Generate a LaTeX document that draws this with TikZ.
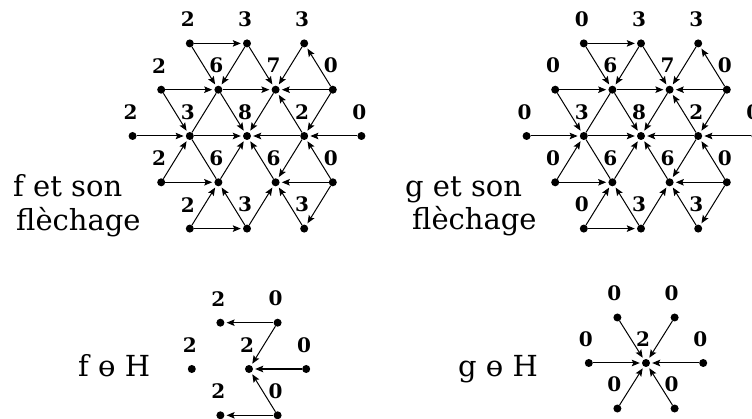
\documentclass[tikz,border=0pt]{standalone}
\usepackage{fontspec}
\setmainfont{DejaVu Serif}
\usetikzlibrary{arrows.meta}
\begin{document}
\begin{tikzpicture}[x=1pt,y=-1pt,
 dot/.style={circle,fill=black,inner sep=0pt,minimum size=8pt},
 arr/.style={draw=black,line width=1pt,-{Stealth[length=8pt,width=6.5pt,inset=1.5pt]},shorten >=2pt},
 pl/.style={draw=black,line width=1pt},
 val/.style={font=\fontsize{20}{20}\selectfont\bfseries,inner sep=0pt},
 txt/.style={font=\fontsize{29}{32}\selectfont,inner sep=0pt,anchor=base west},
 optxt/.style={font=\fontsize{29}{32}\selectfont,inner sep=0pt,anchor=base west}]
\clip (0,0) rectangle (752,419);
% ---------- f lattice ----------
\begin{scope}[shift={(247,136)}]
\foreach \nm/\x/\y/\v in {A1/-57.2/-92.6/2,A2/0/-92.6/3,A3/57.2/-92.6/3,
  B1/-85.8/-46.3/2,B2/-28.6/-46.3/6,B3/28.6/-46.3/7,B4/85.8/-46.3/0,
  C1/-114.4/0/2,C2/-57.2/0/3,C3/0/0/8,C4/57.2/0/2,C5/114.4/0/0,
  D1/-85.8/46.3/2,D2/-28.6/46.3/6,D3/28.6/46.3/6,D4/85.8/46.3/0,
  E1/-57.2/92.6/2,E2/0/92.6/3,E3/57.2/92.6/3}{
  \node[dot] (f-\nm) at (\x,\y) {};
  \node[val] (f-\nm-v) at (\x-2,\y-24) {\v};
}
\end{scope}
% ---------- g lattice ----------
\begin{scope}[shift={(641,136)}]
\foreach \nm/\x/\y/\v in {A1/-57.2/-92.6/0,A2/0/-92.6/3,A3/57.2/-92.6/3,
  B1/-85.8/-46.3/0,B2/-28.6/-46.3/6,B3/28.6/-46.3/7,B4/85.8/-46.3/0,
  C1/-114.4/0/0,C2/-57.2/0/3,C3/0/0/8,C4/57.2/0/2,C5/114.4/0/0,
  D1/-85.8/46.3/0,D2/-28.6/46.3/6,D3/28.6/46.3/6,D4/85.8/46.3/0,
  E1/-57.2/92.6/0,E2/0/92.6/3,E3/57.2/92.6/3}{
  \node[dot] (g-\nm) at (\x,\y) {};
  \node[val] (g-\nm-v) at (\x-2,\y-24) {\v};
}
\end{scope}
% ---------- arrows of both lattices ----------
\foreach \p in {f,g}{
 \foreach \a/\b in {A1/A2,A1/B2,A2/B2,A2/B3,A3/B3,B4/A3,B1/B2,B2/B3,B4/B3,
   B1/C2,B2/C3,B3/C3,C4/B3,B4/C4,C1/C2,C2/C3,C4/C3,C5/C4,D1/C2,D2/C3,D3/C3,
   C4/D3,D4/C4,D1/D2,D4/D3,E1/D2,E2/D2,E2/D3,E3/D3,D4/E3,E1/E2}{
   \draw[arr] (\p-\a) -- (\p-\b);
 }
 \draw[pl] (\p-B2) -- (\p-C2);
 \draw[pl] (\p-C2) -- (\p-D2);
}
% ---------- f erosion ----------
\begin{scope}[shift={(249,369)}]
\foreach \nm/\x/\y/\v in {T1/-28.6/-46.3/2,T2/28.6/-46.3/0,
  M1/-57.2/0/2,M2/0/0/2,M3/57.2/0/0,
  L1/-28.6/46.3/2,L2/28.6/46.3/0}{
  \node[dot] (fh-\nm) at (\x,\y) {};
  \node[val] (fh-\nm-v) at (\x-2,\y-24) {\v};
}
\end{scope}
\foreach \a/\b in {T2/T1,T2/M2,M3/M2,L2/M2,L2/L1}{
  \draw[arr] (fh-\a) -- (fh-\b);
}
% ---------- g erosion ----------
\begin{scope}[shift={(646,363)}]
\foreach \nm/\x/\y/\v in {T1/-28.6/-45.5/0,T2/28.6/-45.5/0,
  M1/-57.2/0/0,M2/0/0/2,M3/57.2/0/0,
  L1/-28.6/45.5/0,L2/28.6/45.5/0}{
  \node[dot] (gh-\nm) at (\x,\y) {};
  \node[val] (gh-\nm-v) at (\x-3,\y-24) {\v};
}
\end{scope}
\foreach \a in {T1,T2,M1,M3,L1,L2}{
  \draw[arr] (gh-\a) -- (gh-M2);
}
% ---------- texts ----------
\node[txt] (t1) at (13,197) {f et son};
\node[txt] (t2) at (16,231) {flèchage};
\node[txt] (t3) at (405,197) {g et son};
\node[txt] (t4) at (412,230) {flèchage};
\node[optxt] (t5) at (78,377) {f ɵ H};
\node[optxt] (t6) at (458,377) {g ɵ H};
\end{tikzpicture}
\end{document}
